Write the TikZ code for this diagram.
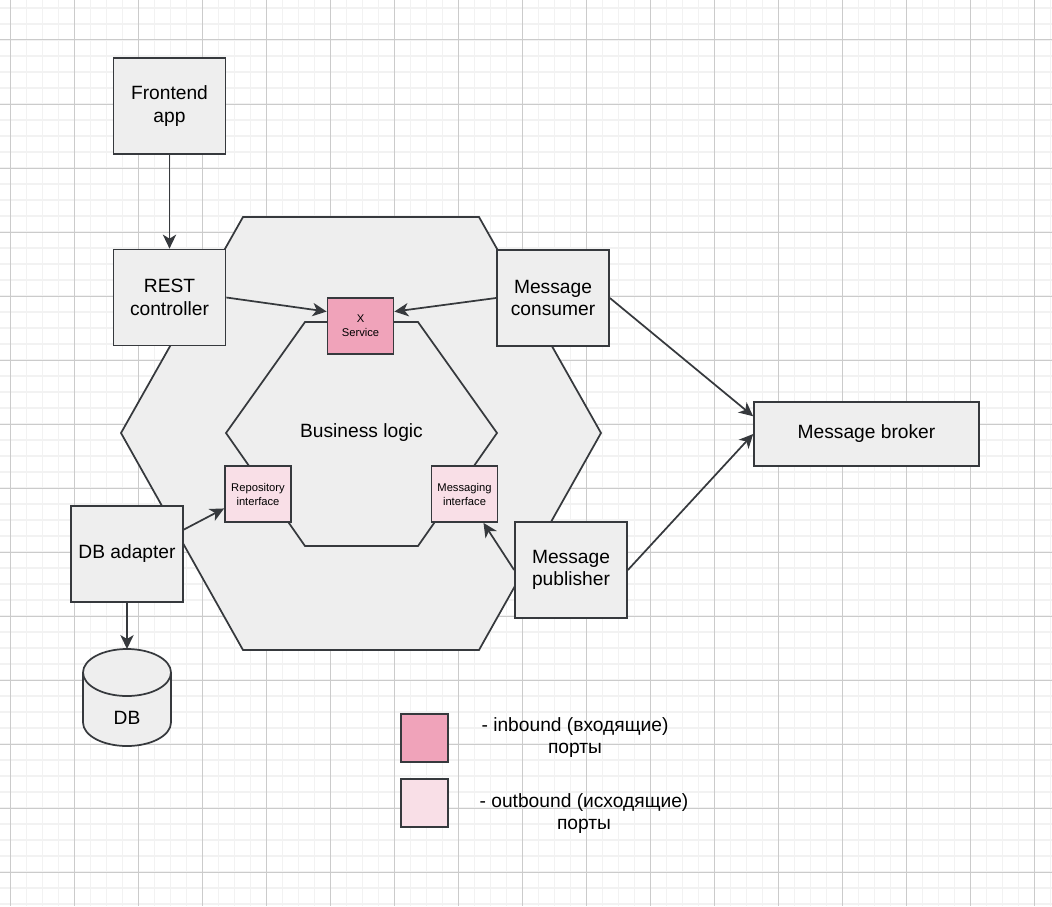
\documentclass[tikz,border=0pt]{standalone}
\usepackage{fontspec}
\setmainfont{Liberation Sans}
\usetikzlibrary{arrows.meta,calc}
\definecolor{edgegray}{HTML}{36393D}
\definecolor{boxgray}{HTML}{EEEEEE}
\definecolor{inpink}{HTML}{F0A3BA}
\definecolor{outpink}{HTML}{F9DFE7}
\definecolor{minorgrid}{HTML}{F2F2F2}
\definecolor{majorgrid}{HTML}{CBCBCB}
\tikzset{
  block/.style={draw=edgegray, fill=boxgray, line width=1.3pt, minimum width=84pt, minimum height=72pt, inner sep=2pt, align=center, font=\fontsize{14.4}{17}\selectfont},
  port/.style={draw=edgegray, line width=1.3pt, minimum width=49.5pt, minimum height=42pt, inner sep=1pt, align=center, font=\fontsize{8.4}{10.5}\selectfont},
  keybox/.style={draw=edgegray, line width=1.3pt, minimum width=35.25pt, minimum height=36pt, inner sep=0pt},
  hexa/.style={draw=edgegray, fill=boxgray, line width=1.3pt, line join=miter},
  conn/.style={draw=edgegray, line width=1.3pt, -{Stealth[length=10.5pt,width=10pt,inset=3pt]}},
  legendtext/.style={align=center, font=\fontsize{14.4}{17}\selectfont},
  minorline/.style={draw=minorgrid, line width=1.2pt},
  majorline/.style={draw=majorgrid, line width=0.75pt}
}
\begin{document}
\begin{tikzpicture}[x=0.75pt,y=0.75pt,yscale=-1,xscale=1]
\useasboundingbox (0,0) rectangle (1052,906);
\fill[white] (0,0) rectangle (1052,906);
% grid
\foreach \gx in {10.5,26.5,...,1052} \draw[minorline] (\gx,0) -- (\gx,906);
\foreach \gy in {8,24,...,906} \draw[minorline] (0,\gy) -- (1052,\gy);
\foreach \gx in {10.5,74.5,...,1052} \draw[majorline] (\gx,0) -- (\gx,906);
\foreach \gy in {40,104,...,906} \draw[majorline] (0,\gy) -- (1052,\gy);
% hexagons
\draw[hexa] (121,433) -- (243,217) -- (479,217) -- (601,433) -- (479,650) -- (243,650) -- cycle;
\draw[hexa] (226,433) -- (305,322) -- (418,322) -- (497,433) -- (418,546) -- (305,546) -- cycle;
\draw (361.5,433) node [legendtext] (biz) {Business logic};
% ports
\draw (360.5,326) node [port, fill=inpink] (xsrv) {X\\Service};
\draw (258,494) node [port, fill=outpink] (repoif) {Repository\\interface};
\draw (464.5,494) node [port, fill=outpink] (msgif) {Messaging\\interface};
% adapters
\draw (169.5,106) node [block] (front) {Frontend\\app};
\draw (169.5,297.5) node [block] (rest) {REST\\controller};
\draw (553,298) node [block] (cons) {Message\\consumer};
\draw (571,570) node [block] (pub) {Message\\publisher};
\draw (127,554) node [block] (dbad) {DB adapter};
\draw (866.5,434) node [block, minimum width=168.75pt, minimum height=48pt] (broker) {Message broker};
% database
\draw[hexa] (83,672.5) -- (83,722.5) arc[start angle=180, end angle=0, x radius=44, y radius=23.5] -- (171,672.5) arc[start angle=0, end angle=-180, x radius=44, y radius=23.5] -- cycle;
\draw[hexa, fill=none] (83,672.5) arc[start angle=180, end angle=0, x radius=44, y radius=23.5];
\coordinate (dbtop) at (127,649);
\draw (127,718) node [legendtext] (db) {DB};
% connectors
\draw[conn] (front) -- (rest);
\draw[conn] (rest.east) -- ($(xsrv.north west)!0.25!(xsrv.south west)$);
\draw[conn] (cons.west) -- ($(xsrv.north east)!0.25!(xsrv.south east)$);
\draw[conn] (cons.east) -- ($(broker.north west)!0.23!(broker.south west)$);
\draw[conn] (pub.east) -- (broker.west);
\draw[conn] (pub.west) -- ($(msgif.south west)!0.78!(msgif.south east)$);
\draw[conn] ($(dbad.north east)!0.25!(dbad.south east)$) -- ($(repoif.north west)!0.75!(repoif.south west)$);
\draw[conn] (dbad) -- (dbtop);
% legend
\draw (424.5,738) node [keybox, fill=inpink] (inkey) {};
\draw (424.5,803) node [keybox, fill=outpink] (outkey) {};
\draw (575,737.5) node [legendtext] (intext) {- inbound (входящие)\\порты};
\draw (584,813.5) node [legendtext] (outtext) {- outbound (исходящие)\\порты};
\end{tikzpicture}
\end{document}
